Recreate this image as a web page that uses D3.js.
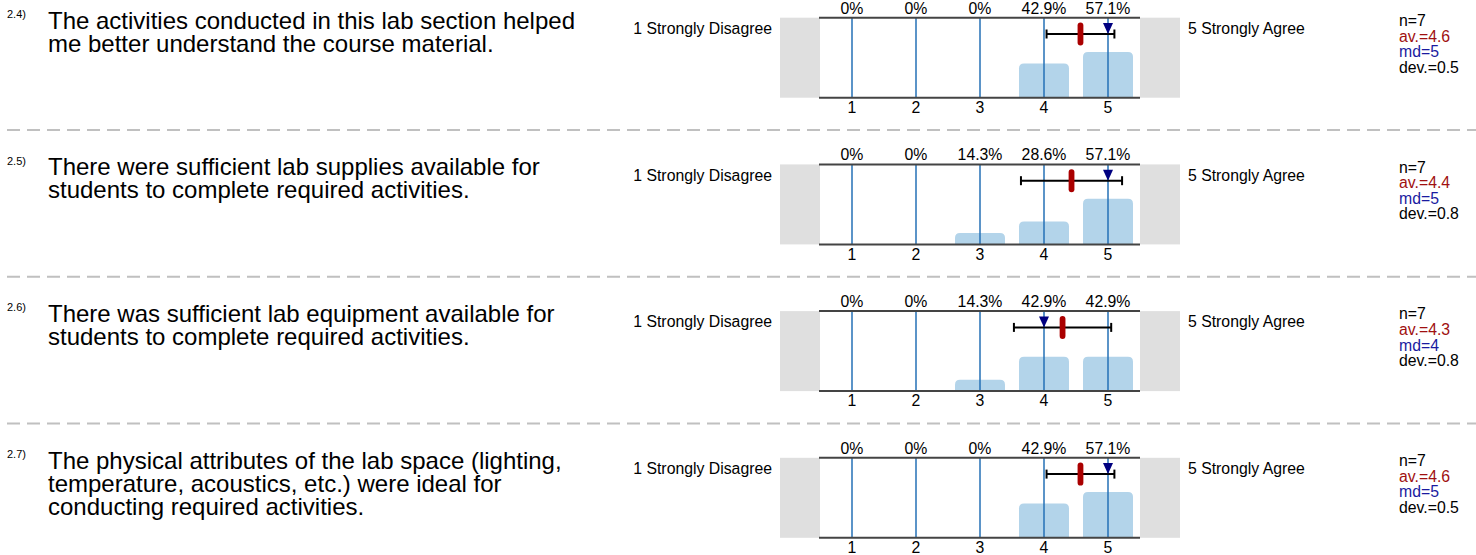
<!DOCTYPE html>
<html>
<head>
<meta charset="utf-8">
<script src="https://cdnjs.cloudflare.com/ajax/libs/d3/7.8.5/d3.min.js"></script>
<style>
	body { margin: 0; background: #fff; }
	text { font-family: "Liberation Sans", Arial, sans-serif; }
</style>
</head>
<body>
<script>
var questionIds = ["2.4)", "2.5)", "2.6)", "2.7)"];
var questionLines = [
	["The activities conducted in this lab section helped", "me better understand the course material."],
	["There were sufficient lab supplies available for", "students to complete required activities."],
	["There was sufficient lab equipment available for", "students to complete required activities."],
	["The physical attributes of the lab space (lighting,", "temperature, acoustics, etc.) were ideal for", "conducting required activities."]
];
var scalePoints = [1, 2, 3, 4, 5];
var leftLabel = "1 Strongly Disagree";
var rightLabel = "5 Strongly Agree";
var percents = [
	[0, 0, 0, 42.9, 57.1],
	[0, 0, 14.3, 28.6, 57.1],
	[0, 0, 14.3, 42.9, 42.9],
	[0, 0, 0, 42.9, 57.1]
];
var nValues = [7, 7, 7, 7];
var avValues = [4.57, 4.43, 4.29, 4.57];
var mdValues = [5, 5, 4, 5];
var devValues = [0.53, 0.79, 0.76, 0.53];

(function(){
	var width = 1476,
		height = 555,
		step = 146.7,
		plotTop = 17.7,
		plotBottom = 97.7,
		errY = 34,
		svg, x, y, panels;

	svg = d3.select("body").append("svg")
		.attr("width", width)
		.attr("height", height);

	x = d3.scaleLinear().domain([0.5, 5.5]).range([820, 1140]);
	y = d3.scaleLinear().domain([0, 100]).range([plotBottom, plotTop]);

	function barPath(v) {
		var x0 = x(v.k) - 25, x1 = x(v.k) + 25,
			y0 = y(v.p), y1 = plotBottom, r = Math.min(5, (y1 - y0));
		if (v.p <= 0) return "";
		return "M" + x0 + "," + y1 + "V" + (y0 + r) + "Q" + x0 + "," + y0 + " " + (x0 + r) + "," + y0 +
			"H" + (x1 - r) + "Q" + x1 + "," + y0 + " " + x1 + "," + (y0 + r) + "V" + y1 + "Z";
	}

	panels = svg.selectAll("g.panel").data(questionIds).enter()
		.append("g")
		.classed("panel", true)
		.attr("transform", function(d, i) {return "translate(0," + (i * step) + ")";});

	panels.each(function(id, i) {
		var g = d3.select(this),
			bars = scalePoints.map(function(k, j) {return {k: k, p: percents[i][j]};}),
			av = avValues[i], dev = devValues[i], md = mdValues[i],
			stats;

		// question
		g.append("text")
			.attr("x", 7).attr("y", 18)
			.style("font-size", "11px")
			.text(id);
		g.append("text")
			.attr("x", 48).attr("y", 28.5)
			.style("font-size", "24px")
			.selectAll("tspan").data(questionLines[i]).enter()
			.append("tspan")
			.attr("x", 48)
			.attr("dy", function(d, j) {return j === 0 ? 0 : 23;})
			.text(function(d) {return d;});

		// end labels and grey boxes
		g.append("text")
			.attr("x", 772).attr("y", 34)
			.attr("text-anchor", "end")
			.style("font-size", "15.8px")
			.text(leftLabel);
		g.append("rect")
			.attr("x", 780).attr("y", plotTop)
			.attr("width", 40).attr("height", plotBottom - plotTop)
			.attr("fill", "#dfdfdf");
		g.append("rect")
			.attr("x", 1140).attr("y", plotTop)
			.attr("width", 40).attr("height", plotBottom - plotTop)
			.attr("fill", "#dfdfdf");
		g.append("text")
			.attr("x", 1188).attr("y", 34)
			.style("font-size", "15.8px")
			.text(rightLabel);

		// bars
		g.selectAll("path.bar").data(bars).enter()
			.append("path")
			.classed("bar", true)
			.attr("d", barPath)
			.attr("fill", "#b3d4ea");

		// vertical scale lines
		g.selectAll("line.tick").data(scalePoints).enter()
			.append("line")
			.classed("tick", true)
			.attr("x1", function(d) {return x(d);})
			.attr("x2", function(d) {return x(d);})
			.attr("y1", plotTop).attr("y2", plotBottom)
			.attr("stroke", "#2470b6")
			.attr("stroke-width", 1.5);

		g.append("line")
			.attr("x1", 819).attr("x2", 1140)
			.attr("y1", plotTop).attr("y2", plotTop)
			.attr("stroke", "#444").attr("stroke-width", 2);
		g.append("line")
			.attr("x1", 819).attr("x2", 1140)
			.attr("y1", plotBottom).attr("y2", plotBottom)
			.attr("stroke", "#444").attr("stroke-width", 2);

		// percent labels and scale numbers
		g.selectAll("text.pct").data(bars).enter()
			.append("text")
			.classed("pct", true)
			.attr("x", function(d) {return x(d.k);})
			.attr("y", 13.5)
			.attr("text-anchor", "middle")
			.style("font-size", "15.8px")
			.text(function(d) {return d.p + "%";});
		g.selectAll("text.num").data(scalePoints).enter()
			.append("text")
			.classed("num", true)
			.attr("x", function(d) {return x(d);})
			.attr("y", 113)
			.attr("text-anchor", "middle")
			.style("font-size", "15.8px")
			.text(function(d) {return d;});

		// error bar
		g.append("line")
			.attr("x1", x(av - dev)).attr("x2", x(av + dev))
			.attr("y1", errY).attr("y2", errY)
			.attr("stroke", "#000").attr("stroke-width", 2);
		[av - dev, av + dev].forEach(function(v) {
			g.append("line")
				.attr("x1", x(v)).attr("x2", x(v))
				.attr("y1", errY - 4.5).attr("y2", errY + 4.5)
				.attr("stroke", "#000").attr("stroke-width", 2);
		});
		g.append("path")
			.attr("d", "M" + (x(md) - 5) + "," + (errY - 11) + "H" + (x(md) + 5) + "L" + x(md) + "," + errY + "Z")
			.attr("fill", "#000080");
		g.append("rect")
			.attr("x", x(av) - 2.9).attr("y", errY - 11.5)
			.attr("width", 5.8).attr("height", 23)
			.attr("rx", 2.9)
			.attr("fill", "#aa0000");

		// stats
		stats = [
			{t: "n=" + nValues[i], c: "#000"},
			{t: "av.=" + av.toFixed(1), c: "#a01010"},
			{t: "md=" + md, c: "#1a1aa0"},
			{t: "dev.=" + dev.toFixed(1), c: "#000"}
		];
		g.selectAll("text.stat").data(stats).enter()
			.append("text")
			.classed("stat", true)
			.attr("x", 1399)
			.attr("y", function(d, j) {return 26 + j * 15.6;})
			.attr("fill", function(d) {return d.c;})
			.style("font-size", "15.8px")
			.text(function(d) {return d.t;});

		if (i < questionIds.length - 1) {
			g.append("line")
				.attr("x1", 7).attr("x2", width)
				.attr("y1", 130).attr("y2", 130)
				.attr("stroke", "#c0c0c0")
				.attr("stroke-width", 2)
				.attr("stroke-dasharray", "13,7");
		}
	});
}());
</script>
</body>
</html>
